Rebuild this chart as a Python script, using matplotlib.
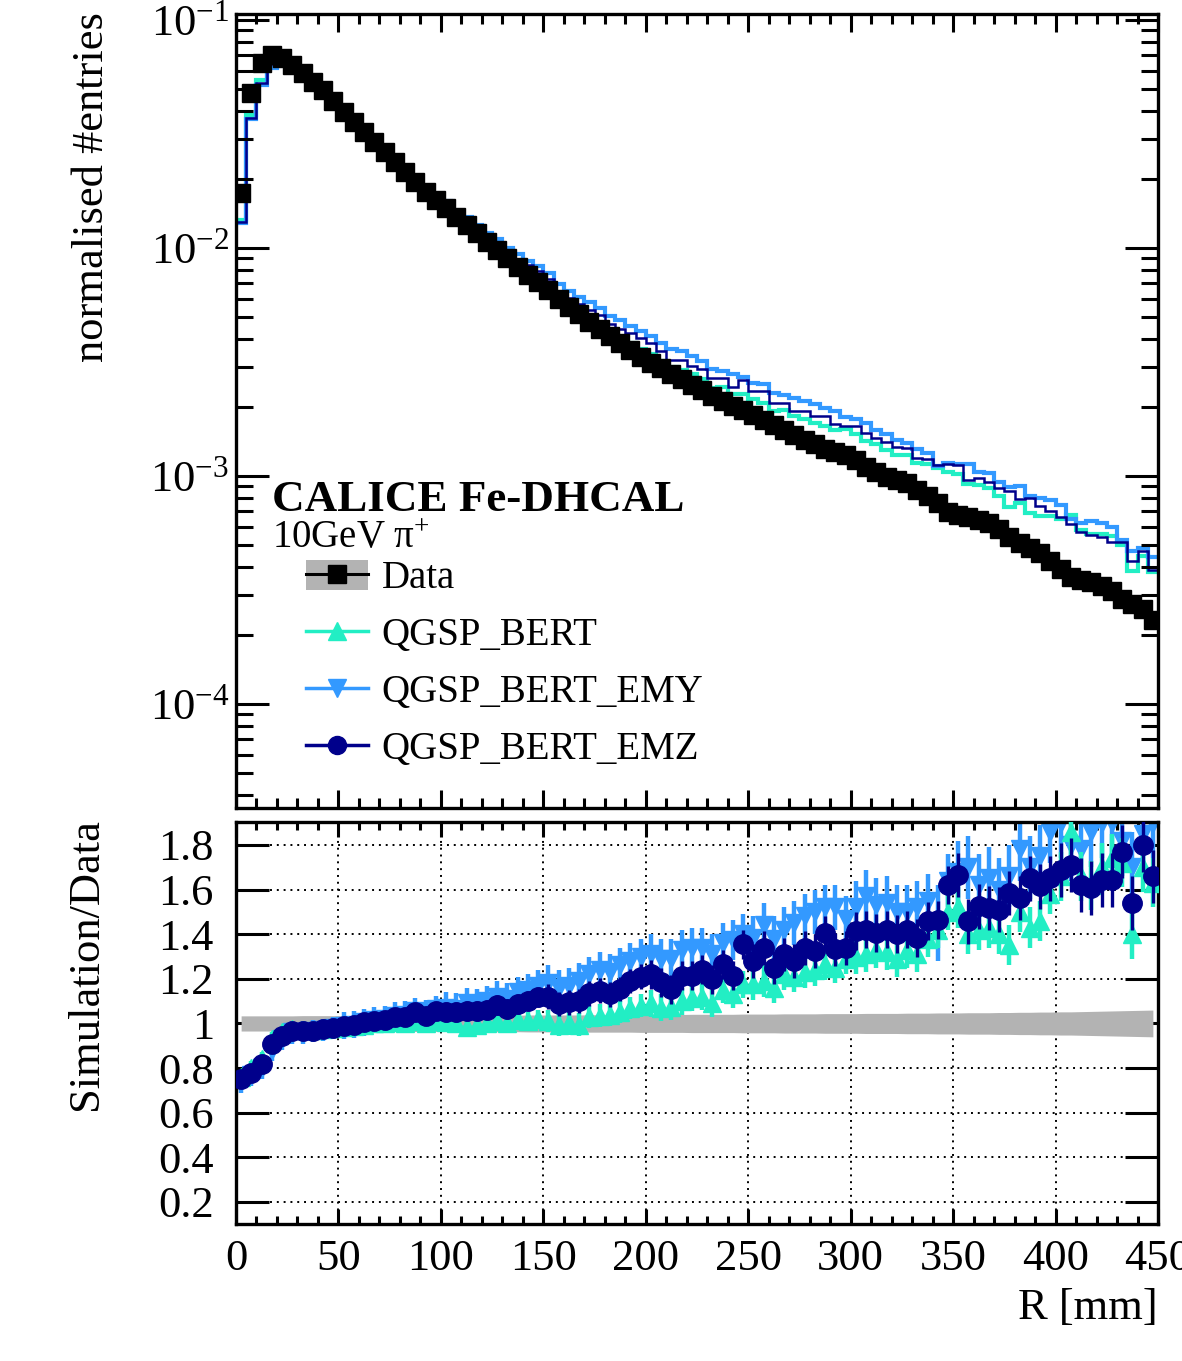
import numpy as np
import matplotlib
matplotlib.use("Agg")
import matplotlib.pyplot as plt
from matplotlib.ticker import MultipleLocator, LogLocator, FixedLocator, FixedFormatter, NullFormatter
from matplotlib.lines import Line2D
from matplotlib.patches import Patch
from matplotlib.legend_handler import HandlerTuple

plt.rcParams['font.family'] = ['Liberation Serif', 'DejaVu Serif']
plt.rcParams['mathtext.fontset'] = 'custom'
plt.rcParams['mathtext.rm'] = 'Liberation Serif'
plt.rcParams['mathtext.it'] = 'Liberation Serif:italic'
plt.rcParams['mathtext.bf'] = 'Liberation Serif:bold'

# ---------------- data ----------------
bin_edges = list(range(0, 455, 5))  # R [mm], 90 bins of 5 mm

data_vals = [
    0.0174, 0.0478, 0.0647, 0.0701, 0.0681, 0.0635, 0.0586, 0.0535, 0.0493, 0.0442,
    0.0395, 0.0357, 0.0323, 0.0292, 0.0264, 0.0238, 0.0215, 0.0195, 0.0176, 0.0162,
    0.0150, 0.0137, 0.0126, 0.01164, 0.01062, 0.00980, 0.00904, 0.00826, 0.00762, 0.00710,
    0.00655, 0.00597, 0.00551, 0.00514, 0.00473, 0.00441, 0.00411, 0.00383, 0.00357, 0.00333,
    0.00313, 0.00298, 0.00280, 0.00266, 0.00251, 0.00238, 0.00224, 0.00213, 0.00203, 0.00195,
    0.00185, 0.00176, 0.00167, 0.00159, 0.00151, 0.00144, 0.00138, 0.00131, 0.00127, 0.00124,
    0.00117, 0.00109, 0.00104, 0.000990, 0.000960, 0.000931, 0.000868, 0.000817, 0.000762, 0.000695,
    0.000674, 0.000661, 0.000641, 0.000622, 0.000586, 0.000540, 0.000508, 0.000483, 0.000459, 0.000424,
    0.000391, 0.000361, 0.000350, 0.000343, 0.000329, 0.000313, 0.000289, 0.000275, 0.000261, 0.000233,
]

data_rel_err = [
    0.034, 0.034, 0.034, 0.034, 0.034, 0.034, 0.035, 0.035, 0.035, 0.035,
    0.035, 0.035, 0.035, 0.035, 0.035, 0.036, 0.036, 0.036, 0.036, 0.036,
    0.036, 0.036, 0.037, 0.037, 0.037, 0.037, 0.037, 0.037, 0.038, 0.038,
    0.038, 0.038, 0.038, 0.038, 0.039, 0.039, 0.039, 0.039, 0.039, 0.040,
    0.040, 0.040, 0.040, 0.040, 0.041, 0.041, 0.041, 0.041, 0.041, 0.042,
    0.042, 0.042, 0.042, 0.043, 0.043, 0.043, 0.043, 0.044, 0.044, 0.044,
    0.044, 0.045, 0.045, 0.045, 0.045, 0.046, 0.046, 0.046, 0.047, 0.047,
    0.047, 0.048, 0.048, 0.048, 0.049, 0.049, 0.050, 0.050, 0.051, 0.051,
    0.052, 0.052, 0.053, 0.054, 0.055, 0.056, 0.057, 0.058, 0.059, 0.060,
]

ratio_bert = [
    0.76, 0.80, 0.84, 0.93, 0.96, 0.975, 0.97, 0.97, 0.975, 0.98,
    0.985, 0.99, 0.995, 1.00, 1.00, 1.005, 1.00, 1.01, 1.00, 1.01,
    1.005, 1.00, 0.985, 0.995, 1.00, 1.01, 1.00, 1.015, 1.01, 1.02,
    1.01, 0.995, 1.00, 0.995, 1.03, 1.035, 1.04, 1.05, 1.07, 1.08,
    1.09, 1.07, 1.075, 1.10, 1.115, 1.12, 1.09, 1.15, 1.13, 1.175,
    1.175, 1.19, 1.16, 1.22, 1.21, 1.23, 1.24, 1.265, 1.25, 1.29,
    1.30, 1.31, 1.33, 1.32, 1.29, 1.33, 1.31, 1.38, 1.42, 1.50,
    1.52, 1.40, 1.42, 1.43, 1.40, 1.35, 1.50, 1.43, 1.46, 1.58,
    1.66, 1.86, 1.66, 1.62, 1.70, 1.74, 1.72, 1.40, 1.70, 1.63,
]
err_bert = [
    0.03, 0.03, 0.03, 0.03, 0.03, 0.03, 0.03, 0.03, 0.03, 0.03,
    0.035, 0.035, 0.035, 0.035, 0.035, 0.035, 0.035, 0.035, 0.035, 0.035,
    0.04, 0.04, 0.04, 0.04, 0.04, 0.04, 0.04, 0.04, 0.04, 0.04,
    0.05, 0.05, 0.05, 0.05, 0.05, 0.05, 0.05, 0.05, 0.05, 0.05,
    0.06, 0.06, 0.06, 0.06, 0.06, 0.06, 0.06, 0.06, 0.06, 0.06,
    0.07, 0.07, 0.07, 0.07, 0.07, 0.07, 0.07, 0.07, 0.07, 0.07,
    0.08, 0.08, 0.08, 0.08, 0.08, 0.08, 0.08, 0.08, 0.08, 0.08,
    0.09, 0.09, 0.09, 0.09, 0.09, 0.09, 0.09, 0.09, 0.09, 0.09,
    0.11, 0.11, 0.11, 0.11, 0.11, 0.11, 0.11, 0.11, 0.11, 0.11,
]

ratio_emy = [
    0.74, 0.77, 0.80, 0.88, 0.93, 0.96, 0.96, 0.965, 0.97, 0.98,
    0.99, 0.995, 1.005, 1.015, 1.02, 1.035, 1.04, 1.055, 1.045, 1.065,
    1.07, 1.065, 1.09, 1.085, 1.10, 1.12, 1.11, 1.14, 1.15, 1.17,
    1.18, 1.16, 1.17, 1.19, 1.22, 1.24, 1.23, 1.26, 1.28, 1.30,
    1.31, 1.29, 1.29, 1.33, 1.34, 1.34, 1.31, 1.36, 1.375, 1.40,
    1.383, 1.44, 1.38, 1.42, 1.45, 1.48, 1.50, 1.52, 1.52, 1.47,
    1.52, 1.57, 1.53, 1.54, 1.50, 1.50, 1.52, 1.55, 1.45, 1.64,
    1.68, 1.70, 1.62, 1.65, 1.60, 1.66, 1.78, 1.70, 1.75, 1.86,
    1.90, 1.80, 1.78, 1.86, 1.90, 1.90, 1.82, 1.70, 1.85, 1.90,
]
err_emy = [
    0.05, 0.05, 0.05, 0.05, 0.05, 0.05, 0.05, 0.05, 0.05, 0.05,
    0.06, 0.06, 0.06, 0.06, 0.06, 0.06, 0.06, 0.06, 0.06, 0.06,
    0.07, 0.07, 0.07, 0.07, 0.07, 0.07, 0.07, 0.07, 0.07, 0.07,
    0.08, 0.08, 0.08, 0.08, 0.08, 0.08, 0.08, 0.08, 0.08, 0.08,
    0.09, 0.09, 0.09, 0.09, 0.09, 0.09, 0.09, 0.09, 0.09, 0.09,
    0.10, 0.10, 0.10, 0.10, 0.10, 0.10, 0.10, 0.10, 0.10, 0.10,
    0.12, 0.12, 0.12, 0.12, 0.12, 0.12, 0.12, 0.12, 0.17, 0.12,
    0.14, 0.14, 0.14, 0.14, 0.14, 0.14, 0.14, 0.14, 0.14, 0.14,
    0.16, 0.16, 0.16, 0.16, 0.16, 0.16, 0.16, 0.16, 0.16, 0.16,
]

ratio_emz = [
    0.75, 0.78, 0.82, 0.91, 0.945, 0.967, 0.967, 0.967, 0.975, 0.98,
    0.99, 0.994, 1.005, 1.012, 1.015, 1.027, 1.03, 1.05, 1.035, 1.054,
    1.05, 1.05, 1.054, 1.054, 1.06, 1.084, 1.064, 1.087, 1.10, 1.117,
    1.12, 1.087, 1.094, 1.10, 1.135, 1.147, 1.13, 1.154, 1.19, 1.21,
    1.22, 1.184, 1.154, 1.214, 1.214, 1.24, 1.198, 1.265, 1.213, 1.354,
    1.28, 1.339, 1.25, 1.31, 1.28, 1.339, 1.324, 1.406, 1.332, 1.339,
    1.413, 1.421, 1.406, 1.421, 1.399, 1.421, 1.384, 1.458, 1.465, 1.62,
    1.666, 1.458, 1.525, 1.517, 1.51, 1.584, 1.562, 1.651, 1.614, 1.651,
    1.688, 1.71, 1.62, 1.607, 1.644, 1.644, 1.77, 1.54, 1.80, 1.659,
]
err_emz = [
    0.03, 0.03, 0.03, 0.03, 0.03, 0.03, 0.03, 0.03, 0.03, 0.03,
    0.035, 0.035, 0.035, 0.035, 0.035, 0.035, 0.035, 0.035, 0.035, 0.035,
    0.045, 0.045, 0.045, 0.045, 0.045, 0.045, 0.045, 0.045, 0.045, 0.045,
    0.055, 0.055, 0.055, 0.055, 0.055, 0.055, 0.055, 0.055, 0.055, 0.055,
    0.065, 0.065, 0.065, 0.065, 0.065, 0.065, 0.065, 0.065, 0.065, 0.065,
    0.075, 0.075, 0.075, 0.075, 0.075, 0.075, 0.075, 0.075, 0.075, 0.075,
    0.085, 0.085, 0.085, 0.085, 0.085, 0.085, 0.085, 0.085, 0.085, 0.085,
    0.10, 0.10, 0.10, 0.10, 0.10, 0.10, 0.10, 0.10, 0.10, 0.10,
    0.12, 0.12, 0.12, 0.12, 0.12, 0.12, 0.12, 0.12, 0.12, 0.12,
]

series_names = ["QGSP_BERT", "QGSP_BERT_EMY", "QGSP_BERT_EMZ"]
ratio_ticks = [0.2, 0.4, 0.6, 0.8, 1.0, 1.2, 1.4, 1.6, 1.8]
ratio_tick_labels = ["0.2", "0.4", "0.6", "0.8", "1", "1.2", "1.4", "1.6", "1.8"]

# ---------------- derived ----------------
edges = np.array(bin_edges, dtype=float)
centers = 0.5 * (edges[:-1] + edges[1:])
data = np.array(data_vals)
mc_bert = data * np.array(ratio_bert)
mc_emy = data * np.array(ratio_emy)
mc_emz = data * np.array(ratio_emz)

C_BERT = '#22eec4'
C_EMY = '#3399ff'
C_EMZ = '#00008b'
C_BAND = '#b3b3b3'

W, H = 1182, 1361
fig = plt.figure(figsize=(W / 100, H / 100), dpi=100)

def fr(x0, y0, x1, y1):
    return [x0 / W, 1 - y1 / H, (x1 - x0) / W, (y1 - y0) / H]

ax1 = fig.add_axes(fr(236, 14, 1158, 808))
ax2 = fig.add_axes(fr(236, 822, 1158, 1224))

TICK_FS = 32

# ---- top panel ----
ax1.stairs(mc_bert, edges, color=C_BERT, lw=3.0, baseline=None)
ax1.stairs(mc_emy, edges, color=C_EMY, lw=3.0, baseline=None)
ax1.stairs(mc_emz, edges, color=C_EMZ, lw=1.8, baseline=None)
ax1.plot(centers, data, ls='none', marker='s', ms=13.5, color='black', zorder=5)

ax1.set_yscale('log')
ax1.set_xlim(0, 450)
ax1.set_ylim(3.5e-5, 0.1062)
ax1.xaxis.set_major_locator(MultipleLocator(50))
ax1.xaxis.set_minor_locator(MultipleLocator(10))
ax1.yaxis.set_major_locator(LogLocator(base=10, numticks=10))
ax1.yaxis.set_minor_locator(LogLocator(base=10, subs=np.arange(2, 10), numticks=20))
ax1.yaxis.set_minor_formatter(NullFormatter())
ax1.tick_params(axis='x', which='both', direction='in', top=True, bottom=True,
                labelbottom=False, width=2.2)
ax1.tick_params(axis='x', which='major', length=13)
ax1.tick_params(axis='x', which='minor', length=7)
ax1.tick_params(axis='y', which='both', direction='in', left=True, right=True, width=2.2,
                labelsize=TICK_FS, pad=5)
ax1.tick_params(axis='y', which='major', length=24)
ax1.tick_params(axis='y', which='minor', length=12)
for s in ax1.spines.values():
    s.set_linewidth(2.4)

# legend
h_data = (Patch(facecolor=C_BAND, edgecolor='none'),
          Line2D([], [], color='black', marker='s', ms=13, lw=2.2))
h_bert = Line2D([], [], color=C_BERT, marker='^', ms=13, lw=2.5)
h_emy = Line2D([], [], color=C_EMY, marker='v', ms=13, lw=2.5)
h_emz = Line2D([], [], color=C_EMZ, marker='o', ms=13, lw=2.5)
leg = ax1.legend([h_data, h_bert, h_emy, h_emz], ["Data"] + series_names,
                 handler_map={tuple: HandlerTuple(ndivide=1, pad=0)},
                 loc='upper left', bbox_to_anchor=(306 / W, 1 - 560 / H),
                 bbox_transform=fig.transFigure, frameon=False, fontsize=28,
                 borderpad=0, borderaxespad=0, handlelength=1.6, handleheight=0.8,
                 handletextpad=0.35, labelspacing=0.5)

fig.text(272 / W, 1 - 511 / H, "CALICE Fe-DHCAL", fontsize=32.5, fontweight='bold',
         ha='left', va='baseline')
fig.text(272 / W, 1 - 548 / H, "10GeV π$^{+}$", fontsize=28, ha='left', va='baseline')

fig.text(92 / W, 1 - 12 / H, "normalised #entries", rotation=90, fontsize=32,
         ha='center', va='top')

# ---- bottom panel ----
ax2.set_axisbelow(True)
ax2.fill_between(centers, 1 - np.array(data_rel_err), 1 + np.array(data_rel_err),
                 color=C_BAND, lw=0, zorder=1)
ax2.errorbar(centers, ratio_emy, yerr=err_emy, fmt='v', color=C_EMY, ms=13,
             elinewidth=3.2, capsize=0, zorder=2)
ax2.errorbar(centers, ratio_bert, yerr=err_bert, fmt='^', color=C_BERT, ms=13,
             elinewidth=3.2, capsize=0, zorder=3)
ax2.errorbar(centers, ratio_emz, yerr=err_emz, fmt='o', color=C_EMZ, ms=14,
             elinewidth=2.4, capsize=0, zorder=4)

ax2.set_xlim(0, 450)
ax2.set_ylim(0.101, 1.903)
ax2.xaxis.set_major_locator(MultipleLocator(50))
ax2.xaxis.set_minor_locator(MultipleLocator(10))
ax2.yaxis.set_major_locator(FixedLocator(ratio_ticks))
ax2.yaxis.set_major_formatter(FixedFormatter(ratio_tick_labels))
ax2.grid(True, which='major', linestyle=(0, (1, 2.5)), color='black', lw=1.4)
ax2.tick_params(axis='x', which='both', direction='in', top=True, bottom=True,
                width=2.2, labelsize=TICK_FS, pad=11)
ax2.tick_params(axis='x', which='major', length=11)
ax2.tick_params(axis='x', which='minor', length=6)
ax2.tick_params(axis='y', which='major', direction='in', left=True, right=True,
                width=2.2, length=24, labelsize=TICK_FS, pad=16)
for s in ax2.spines.values():
    s.set_linewidth(2.4)

fig.text(86 / W, 1 - 818 / H, "Simulation/Data", rotation=90, fontsize=32,
         ha='center', va='top')
fig.text(1158 / W, 1 - 1308 / H, "R [mm]", fontsize=32, ha='right', va='center')

fig.savefig("out.png", dpi=100)
